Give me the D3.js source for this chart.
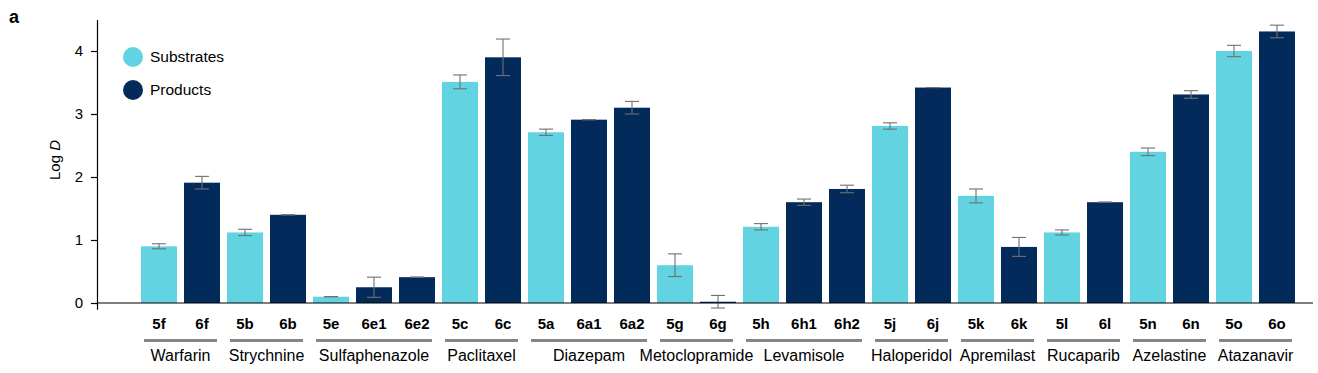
<!DOCTYPE html>
<html>
<head>
<meta charset="utf-8">
<script src="https://cdn.jsdelivr.net/npm/d3@7"></script>
<style>
  body { margin: 0; background: #fff; }
  svg { display: block; font-family: "Liberation Sans", Arial, sans-serif; }
</style>
</head>
<body>
<svg id="chart"></svg>
<script>
/* data */
var labels = ["5f","6f","5b","6b","5e","6e1","6e2","5c","6c","5a","6a1","6a2","5g","6g",
              "5h","6h1","6h2","5j","6j","5k","6k","5l","6l","5n","6n","5o","6o"];
var logD = [0.90,1.91,1.12,1.40,0.10,0.25,0.41,3.51,3.90,2.71,2.91,3.10,0.60,0.02,
            1.21,1.60,1.81,2.81,3.42,1.70,0.89,1.12,1.60,2.40,3.31,4.00,4.31];
var errs = [0.04,0.10,0.05,0.00,0.00,0.16,0.00,0.11,0.29,0.05,0.00,0.10,0.18,0.10,
            0.05,0.05,0.06,0.05,0.00,0.11,0.15,0.04,0.00,0.06,0.06,0.09,0.10];
var drugs = ["Warfarin","Strychnine","Sulfaphenazole","Paclitaxel","Diazepam","Metoclopramide",
             "Levamisole","Haloperidol","Apremilast","Rucaparib","Azelastine","Atazanavir"];
var drugSizes = [2,2,3,2,3,2,3,2,2,2,2,2];
var yTicks = [0,1,2,3,4];
var series = ["Substrates","Products"];

var width = 1318, height = 373;
var colour = { Substrates: "#62d3e1", Products: "#022b5c" };

var data = labels.map(function(l, i){
  return { id: l, value: logD[i], err: errs[i], type: l.charAt(0) === "5" ? "Substrates" : "Products" };
});

var svg = d3.select("#chart").attr("width", width).attr("height", height);
svg.append("rect").attr("width", width).attr("height", height).attr("fill", "#fff");

/* scales */
var x = d3.scaleBand()
  .domain(labels)
  .range([137.5, 1298.5])
  .paddingInner(0.163)
  .paddingOuter(0.0815);

var y = d3.scaleLinear()
  .domain([-0.1, 4.5])
  .range([309.3, 19.5]);

var axisX = 97;

/* bars */
svg.append("g").selectAll("rect")
  .data(data)
  .enter().append("rect")
    .attr("x", function(d){ return x(d.id); })
    .attr("y", function(d){ return y(d.value); })
    .attr("width", x.bandwidth())
    .attr("height", function(d){ return y(0) - y(d.value); })
    .attr("fill", function(d){ return colour[d.type]; });

/* error bars */
var eb = svg.append("g").attr("stroke", "#707070").attr("stroke-width", 1.1).attr("fill", "none");
var cap = 7;
data.forEach(function(d){
  var cx = x(d.id) + x.bandwidth() / 2;
  var hi = y(d.value + d.err), lo = y(d.value - d.err);
  eb.append("line").attr("x1", cx).attr("x2", cx).attr("y1", hi).attr("y2", lo);
  eb.append("line").attr("x1", cx - cap).attr("x2", cx + cap).attr("y1", hi).attr("y2", hi);
  eb.append("line").attr("x1", cx - cap).attr("x2", cx + cap).attr("y1", lo).attr("y2", lo);
});

/* baseline */
svg.append("line")
  .attr("x1", axisX).attr("x2", 1313)
  .attr("y1", y(0)).attr("y2", y(0))
  .attr("stroke", "#000").attr("stroke-width", 1.2);

/* y axis */
var yAxisG = svg.append("g")
  .attr("transform", "translate(" + axisX + ",0)")
  .call(d3.axisLeft(y).tickValues(yTicks).tickSize(6).tickSizeOuter(0).tickPadding(8).tickFormat(d3.format("d")));
yAxisG.select(".domain").attr("stroke", "#000").attr("stroke-width", 1.2);
yAxisG.selectAll(".tick line").attr("stroke", "#000").attr("stroke-width", 1.2);
yAxisG.selectAll(".tick text").attr("font-size", 15).attr("fill", "#000")
  .attr("font-family", "Liberation Sans, Arial, sans-serif");

/* y axis title */
var yt = svg.append("text")
  .attr("transform", "translate(60,160) rotate(-90)")
  .attr("text-anchor", "middle")
  .attr("font-size", 15);
yt.append("tspan").text("Log ");
yt.append("tspan").attr("font-style", "italic").text("D");

/* panel letter */
svg.append("text").attr("x", 9).attr("y", 23)
  .attr("font-size", 18).attr("font-weight", "bold").text("a");

/* compound labels */
svg.append("g").selectAll("text")
  .data(data)
  .enter().append("text")
    .attr("x", function(d){ return x(d.id) + x.bandwidth() / 2; })
    .attr("y", 329)
    .attr("text-anchor", "middle")
    .attr("font-size", 15)
    .attr("font-weight", "bold")
    .text(function(d){ return d.id; });

/* drug groups */
var start = 0;
var groups = drugs.map(function(name, i){
  var g = { name: name, first: labels[start], last: labels[start + drugSizes[i] - 1] };
  start += drugSizes[i];
  return g;
});
var gg = svg.append("g");
groups.forEach(function(g){
  var x0 = x(g.first) + 3, x1 = x(g.last) + x.bandwidth() - 3;
  gg.append("line")
    .attr("x1", x0).attr("x2", x1).attr("y1", 340.5).attr("y2", 340.5)
    .attr("stroke", "#868686").attr("stroke-width", 3);
  gg.append("text")
    .attr("x", (x0 + x1) / 2).attr("y", 361)
    .attr("text-anchor", "middle").attr("font-size", 16)
    .text(g.name);
});

/* legend */
var leg = svg.append("g");
series.forEach(function(s, i){
  leg.append("circle").attr("cx", 133).attr("cy", 57 + i * 33).attr("r", 10).attr("fill", colour[s]);
  leg.append("text").attr("x", 150).attr("y", 57 + i * 33).attr("dy", "0.35em")
    .attr("font-size", 15.5).text(s);
});
</script>
</body>
</html>
